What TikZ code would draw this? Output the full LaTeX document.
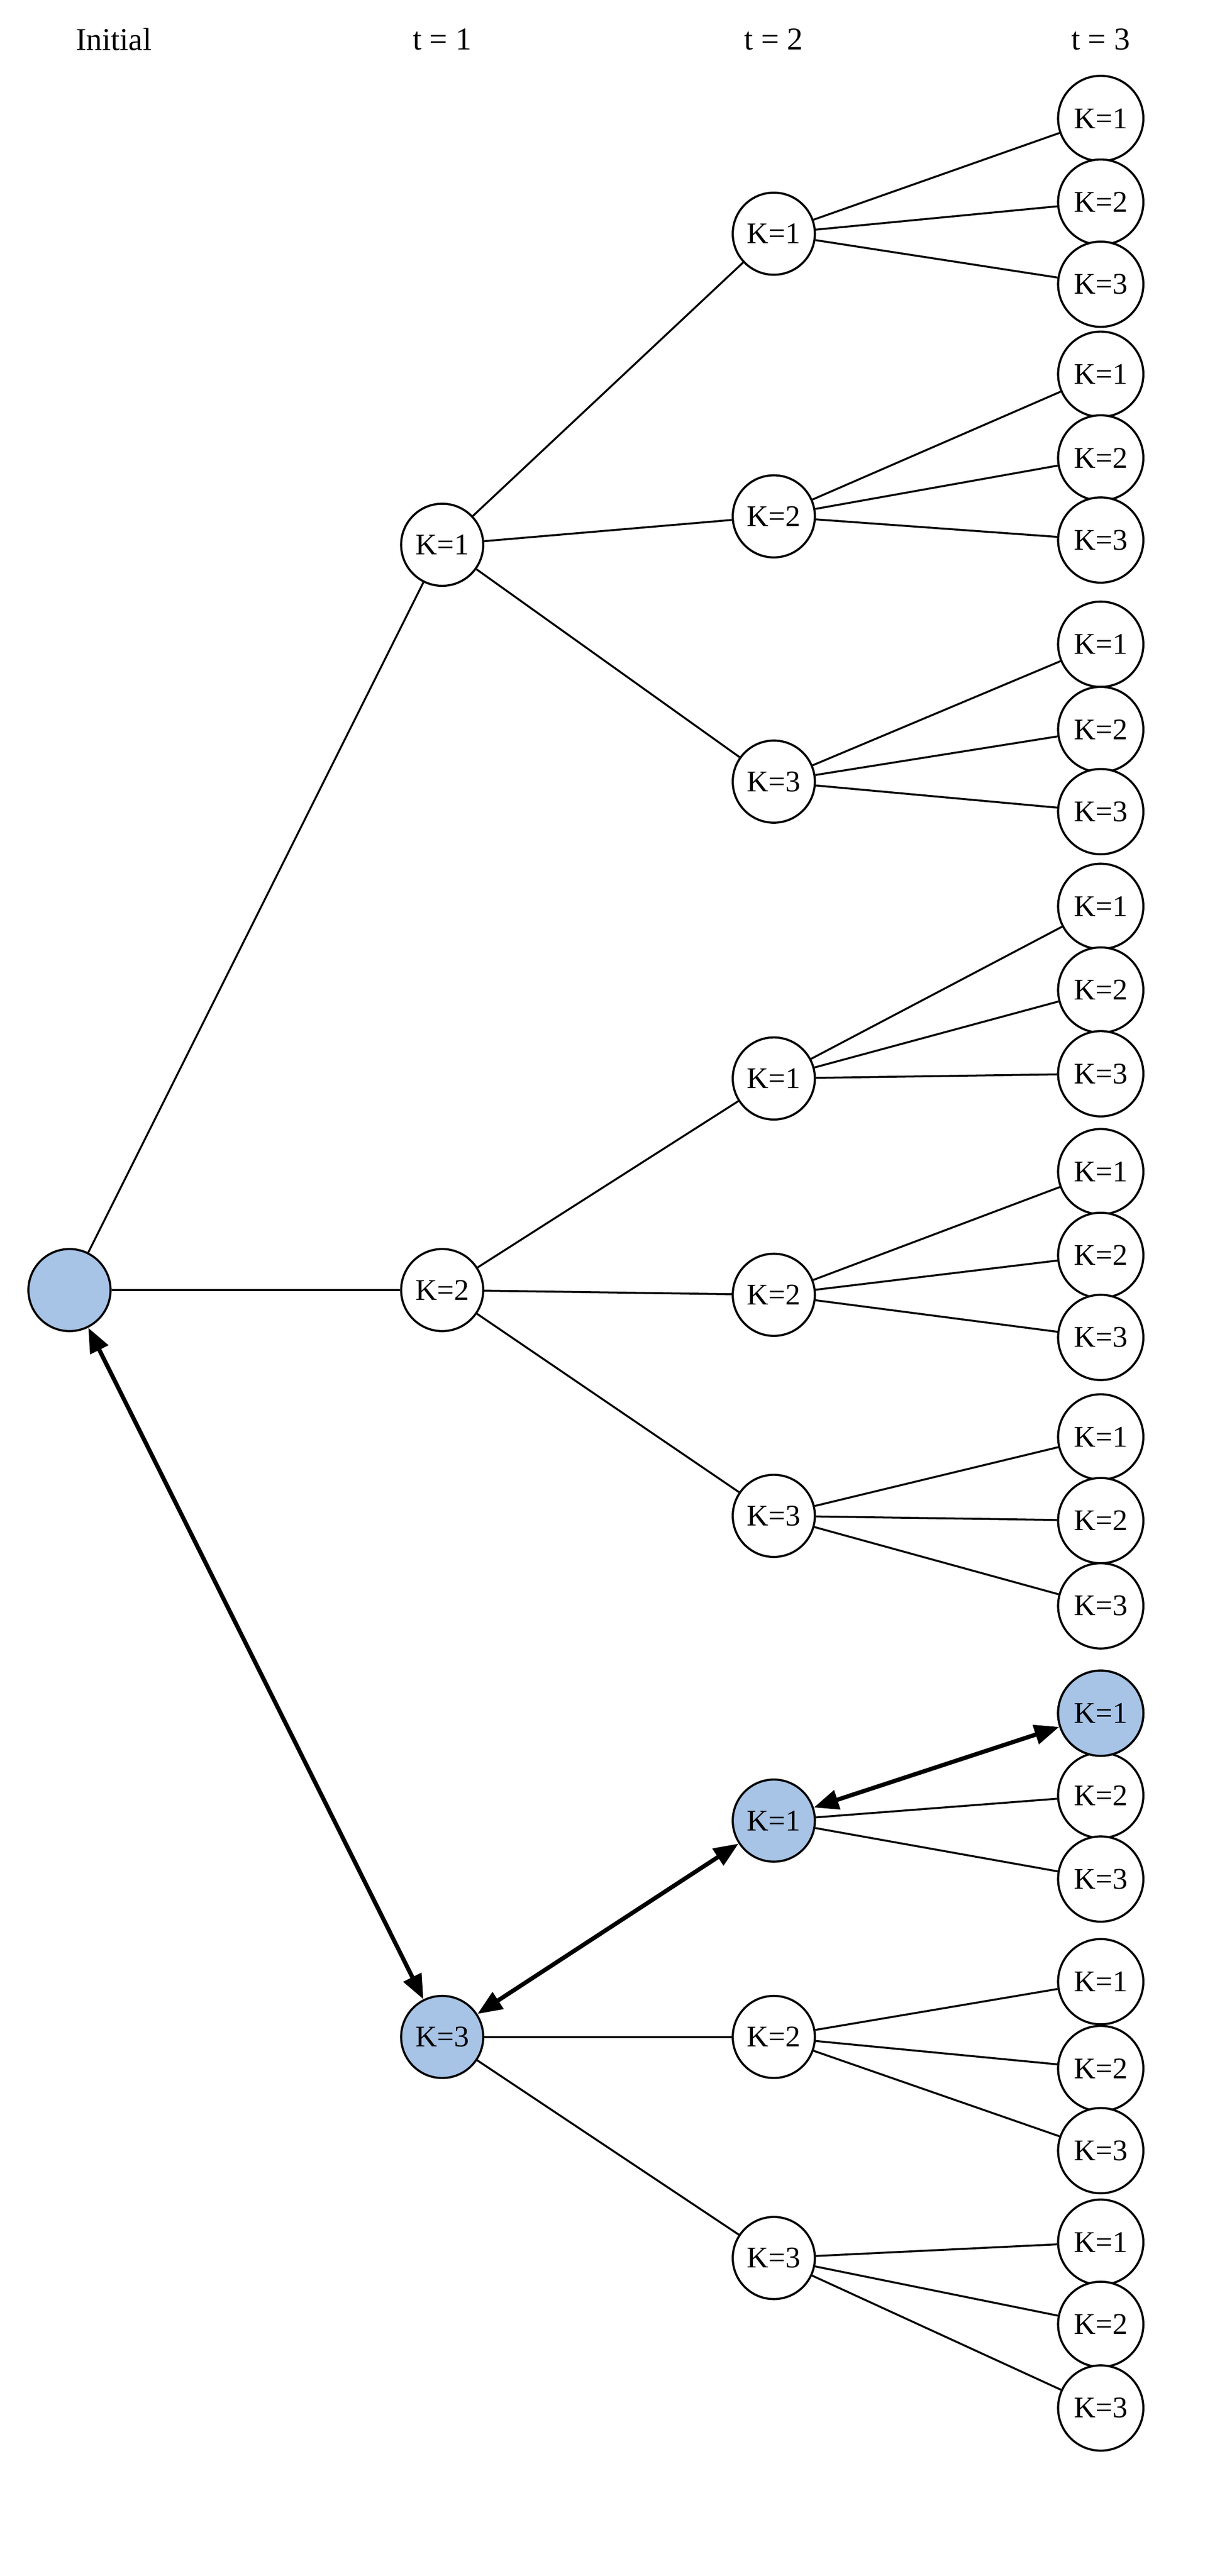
\documentclass[tikz,border=0pt]{standalone}
\usepackage{fontspec}
\setmainfont{Liberation Serif}
\usetikzlibrary{arrows.meta}
\definecolor{hl}{HTML}{A7C3E5}
\begin{document}
\begin{tikzpicture}[x=0.03144cm,y=-0.03144cm,
  st/.style={circle,draw,line width=1.2pt,minimum size=52*0.03144cm,inner sep=0pt,font=\fontsize{17}{18}\selectfont,fill=white},
  lf/.style={st,minimum size=54*0.03144cm},
  hd/.style={font=\fontsize{18}{19}\selectfont},
  ed/.style={line width=1.1pt},
  ar/.style={line width=2.4pt,{Triangle[length=14pt,width=11pt]}-{Triangle[length=14pt,width=11pt]}},
  sel/.style={fill=hl}]
\useasboundingbox (0,0) rectangle (779.9,1631.4);
\node[hd] (h0) at (72,25) {Initial};
\node[hd] (h1) at (280,25) {t = 1};
\node[hd] (h2) at (490,25) {t = 2};
\node[hd] (h3) at (697,25) {t = 3};
\node[st,sel] (r) at (44,817) {};
\node[st] (a1) at (280,345) {K=1};
\node[st] (a2) at (280,817) {K=2};
\node[st,sel] (a3) at (280,1290) {K=3};
\node[st] (a1b1) at (490,148) {K=1};
\node[st] (a1b2) at (490,327) {K=2};
\node[st] (a1b3) at (490,495) {K=3};
\node[st] (a2b1) at (490,683) {K=1};
\node[st] (a2b2) at (490,820) {K=2};
\node[st] (a2b3) at (490,960) {K=3};
\node[st,sel] (a3b1) at (490,1153) {K=1};
\node[st] (a3b2) at (490,1290) {K=2};
\node[st] (a3b3) at (490,1430) {K=3};
\foreach \n/\ya/\yb/\yc in {a1b1/75/128/180, a1b2/237/290/342, a1b3/408/462/514,
  a2b1/574/627/680, a2b2/742/795/847, a2b3/910/963/1017,
  a3b1/1085/1137/1190, a3b2/1255/1310/1362, a3b3/1420/1472/1525}{
  \node[lf] (\n c1) at (697,\ya) {K=1};
  \node[lf] (\n c2) at (697,\yb) {K=2};
  \node[lf] (\n c3) at (697,\yc) {K=3};
}
\node[lf,sel] at (a3b1c1) {K=1};
\draw[ed] (r) -- (a1); \draw[ed] (r) -- (a2);
\draw[ed] (a1) -- (a1b1); \draw[ed] (a1) -- (a1b2); \draw[ed] (a1) -- (a1b3);
\draw[ed] (a2) -- (a2b1); \draw[ed] (a2) -- (a2b2); \draw[ed] (a2) -- (a2b3);
\draw[ed] (a3) -- (a3b2); \draw[ed] (a3) -- (a3b3);
\foreach \n in {a1b1,a1b2,a1b3,a2b1,a2b2,a2b3,a3b2,a3b3}{
  \draw[ed] (\n) -- (\n c1); \draw[ed] (\n) -- (\n c2); \draw[ed] (\n) -- (\n c3);}
\draw[ed] (a3b1) -- (a3b1c2); \draw[ed] (a3b1) -- (a3b1c3);
\draw[ar] (r) -- (a3);
\draw[ar] (a3) -- (a3b1);
\draw[ar] (a3b1) -- (a3b1c1);
\end{tikzpicture}
\end{document}
